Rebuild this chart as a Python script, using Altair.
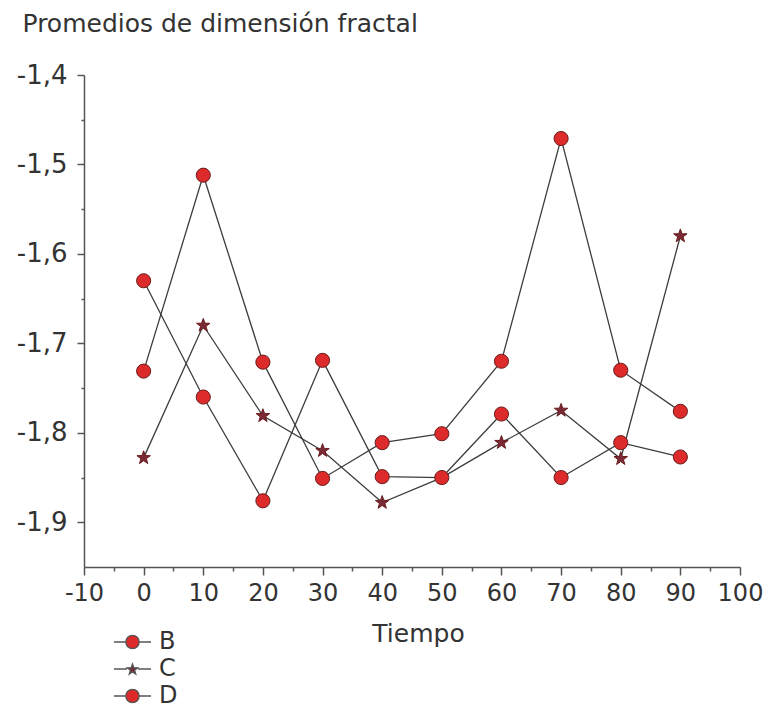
import altair as alt
import pandas as pd

tiempo = [0, 10, 20, 30, 40, 50, 60, 70, 80, 90]
serie_b = [-1.731, -1.512, -1.721, -1.851, -1.811, -1.801, -1.720, -1.471, -1.730, -1.776]
serie_c = [-1.828, -1.680, -1.781, -1.820, -1.878, -1.850, -1.811, -1.775, -1.829, -1.580]
serie_d = [-1.630, -1.760, -1.876, -1.719, -1.849, -1.850, -1.779, -1.850, -1.811, -1.827]
series = ["B", "C", "D"]

x_ticks = [-10, -5, 0, 5, 10, 15, 20, 25, 30, 35, 40, 45, 50, 55, 60, 65, 70, 75, 80, 85, 90, 95, 100]
y_ticks = [-1.9, -1.85, -1.8, -1.75, -1.7, -1.65, -1.6, -1.55, -1.5, -1.45, -1.4]

rows = []
for name, vals in zip(series, [serie_b, serie_c, serie_d]):
    for t, v in zip(tiempo, vals):
        rows.append({"serie": name, "Tiempo": t, "valor": v})
df = pd.DataFrame(rows)

FONT = "DejaVu Sans"
TXT = "#333333"

STAR = ("M0,-1 L0.235,-0.324 L0.951,-0.309 L0.380,0.124 L0.588,0.809 L0,0.4 "
        "L-0.588,0.809 L-0.380,0.124 L-0.951,-0.309 L-0.235,-0.324 Z")
r = 0.36
LEG_CIRCLE = (f"M-1,0H{-r} M{r},0H1 M{r},0 A{r},{r} 0 1,1 {-r},0 A{r},{r} 0 1,1 {r},0 Z")
s = 0.3
star_pts = [(0, -1), (0.235, -0.324), (0.951, -0.309), (0.380, 0.124), (0.588, 0.809),
            (0, 0.4), (-0.588, 0.809), (-0.380, 0.124), (-0.951, -0.309), (-0.235, -0.324)]
LEG_STAR = "M-1,0H-0.3 M0.3,0H1 M" + " L".join(f"{x*s:.3f},{y*s+0.03:.3f}" for x, y in star_pts) + " Z"

major_x = "datum.value % 10 == 0"
major_y = "abs(datum.value*10 - round(datum.value*10)) < 0.001"

x_enc = alt.X(
    "Tiempo:Q",
    scale=alt.Scale(domain=[-10, 100], nice=False, zero=False),
    axis=alt.Axis(
        values=x_ticks,
        labelExpr=f"({major_x}) ? toString(datum.value) : ''",
        tickSize={"condition": {"test": major_x, "value": 8}, "value": 4},
        labelPadding=6,
        labelFontSize=24,
        labelFont=FONT,
        labelColor=TXT,
        grid=False,
        title="Tiempo",
        titleFont=FONT,
        titleFontSize=25,
        titleFontWeight="normal",
        titleColor=TXT,
        titleAnchor="middle",
        titleBaseline="alphabetic",
        titleX=334,
        titleY=74,
        domainColor="#555555",
        domainWidth=1.5,
        tickColor="#555555",
        tickWidth=1.5,
        labelFlush=False,
        labelOverlap=False,
    ),
)

y_enc = alt.Y(
    "valor:Q",
    scale=alt.Scale(domain=[-1.95, -1.4], nice=False, zero=False),
    axis=alt.Axis(
        values=y_ticks,
        labelExpr=f"({major_y}) ? replace(toString(datum.value), '.', ',') : ''",
        tickSize={"condition": {"test": major_y, "value": 7}, "value": 3},
        labelPadding=10,
        labelFontSize=26,
        labelFont=FONT,
        labelColor=TXT,
        grid=False,
        title="Promedios de dimensión fractal",
        titleFont=FONT,
        titleFontSize=25,
        titleFontWeight="normal",
        titleColor=TXT,
        titleAngle=0,
        titleAlign="left",
        titleBaseline="alphabetic",
        titleX=-62,
        titleY=-44,
        domainColor="#555555",
        domainWidth=1.5,
        tickColor="#555555",
        tickWidth=1.5,
        labelFlush=False,
        labelOverlap=False,
    ),
)

base = alt.Chart(df)

lines = base.mark_line(color="#3d3d3d", strokeWidth=1.3).encode(
    x=x_enc, y=y_enc, detail="serie:N", order="Tiempo:Q"
)

fill_scale = alt.Scale(domain=series, range=["#dd2a2a", "#7a2a36", "#dd2a2a"])

points = base.mark_point(filled=True, size=200, stroke="#6a1c1c", strokeWidth=1.0, opacity=1).encode(
    x=x_enc,
    y=y_enc,
    shape=alt.Shape("serie:N", scale=alt.Scale(domain=series, range=["circle", STAR, "circle"]), legend=None),
    fill=alt.Fill("serie:N", scale=fill_scale, legend=None),
)

leg = dict(
    orient="none", legendX=29, legendY=554, title=None,
    symbolSize=1369, clipHeight=26, rowPadding=1, labelOffset=7,
    labelFontSize=24, labelFont=FONT, labelColor=TXT,
    symbolStrokeWidth=1.3, symbolOpacity=1,
    padding=0, offset=0,
)

legend_layer = base.mark_point(filled=True, size=1369, opacity=0, strokeWidth=1.3).encode(
    x=x_enc,
    y=y_enc,
    shape=alt.Shape(
        "serie:N",
        scale=alt.Scale(domain=series, range=[LEG_CIRCLE, LEG_STAR, LEG_CIRCLE]),
        legend=alt.Legend(**leg),
    ),
    fill=alt.Fill(
        "serie:N",
        scale=alt.Scale(domain=series, range=["#dd2a2a", "#7a2a36", "#dd2a2a"]),
        legend=alt.Legend(**leg),
    ),
    stroke=alt.Stroke(
        "serie:N",
        scale=alt.Scale(domain=series, range=["#555555", "#555555", "#555555"]),
        legend=alt.Legend(**leg),
    ),
)

chart = (
    alt.layer(lines, points, legend_layer)
    .resolve_scale(shape="independent", fill="independent", stroke="independent")
    .properties(
        width=656,
        height=492,
        autosize=alt.AutoSizeParams(type="none"),
        padding={"left": 76, "top": 67, "right": 29, "bottom": 145},
        background="white",
    )
    .configure_view(stroke=None)
)

chart.save("out.html", embed_options={"renderer": "svg", "actions": False})
